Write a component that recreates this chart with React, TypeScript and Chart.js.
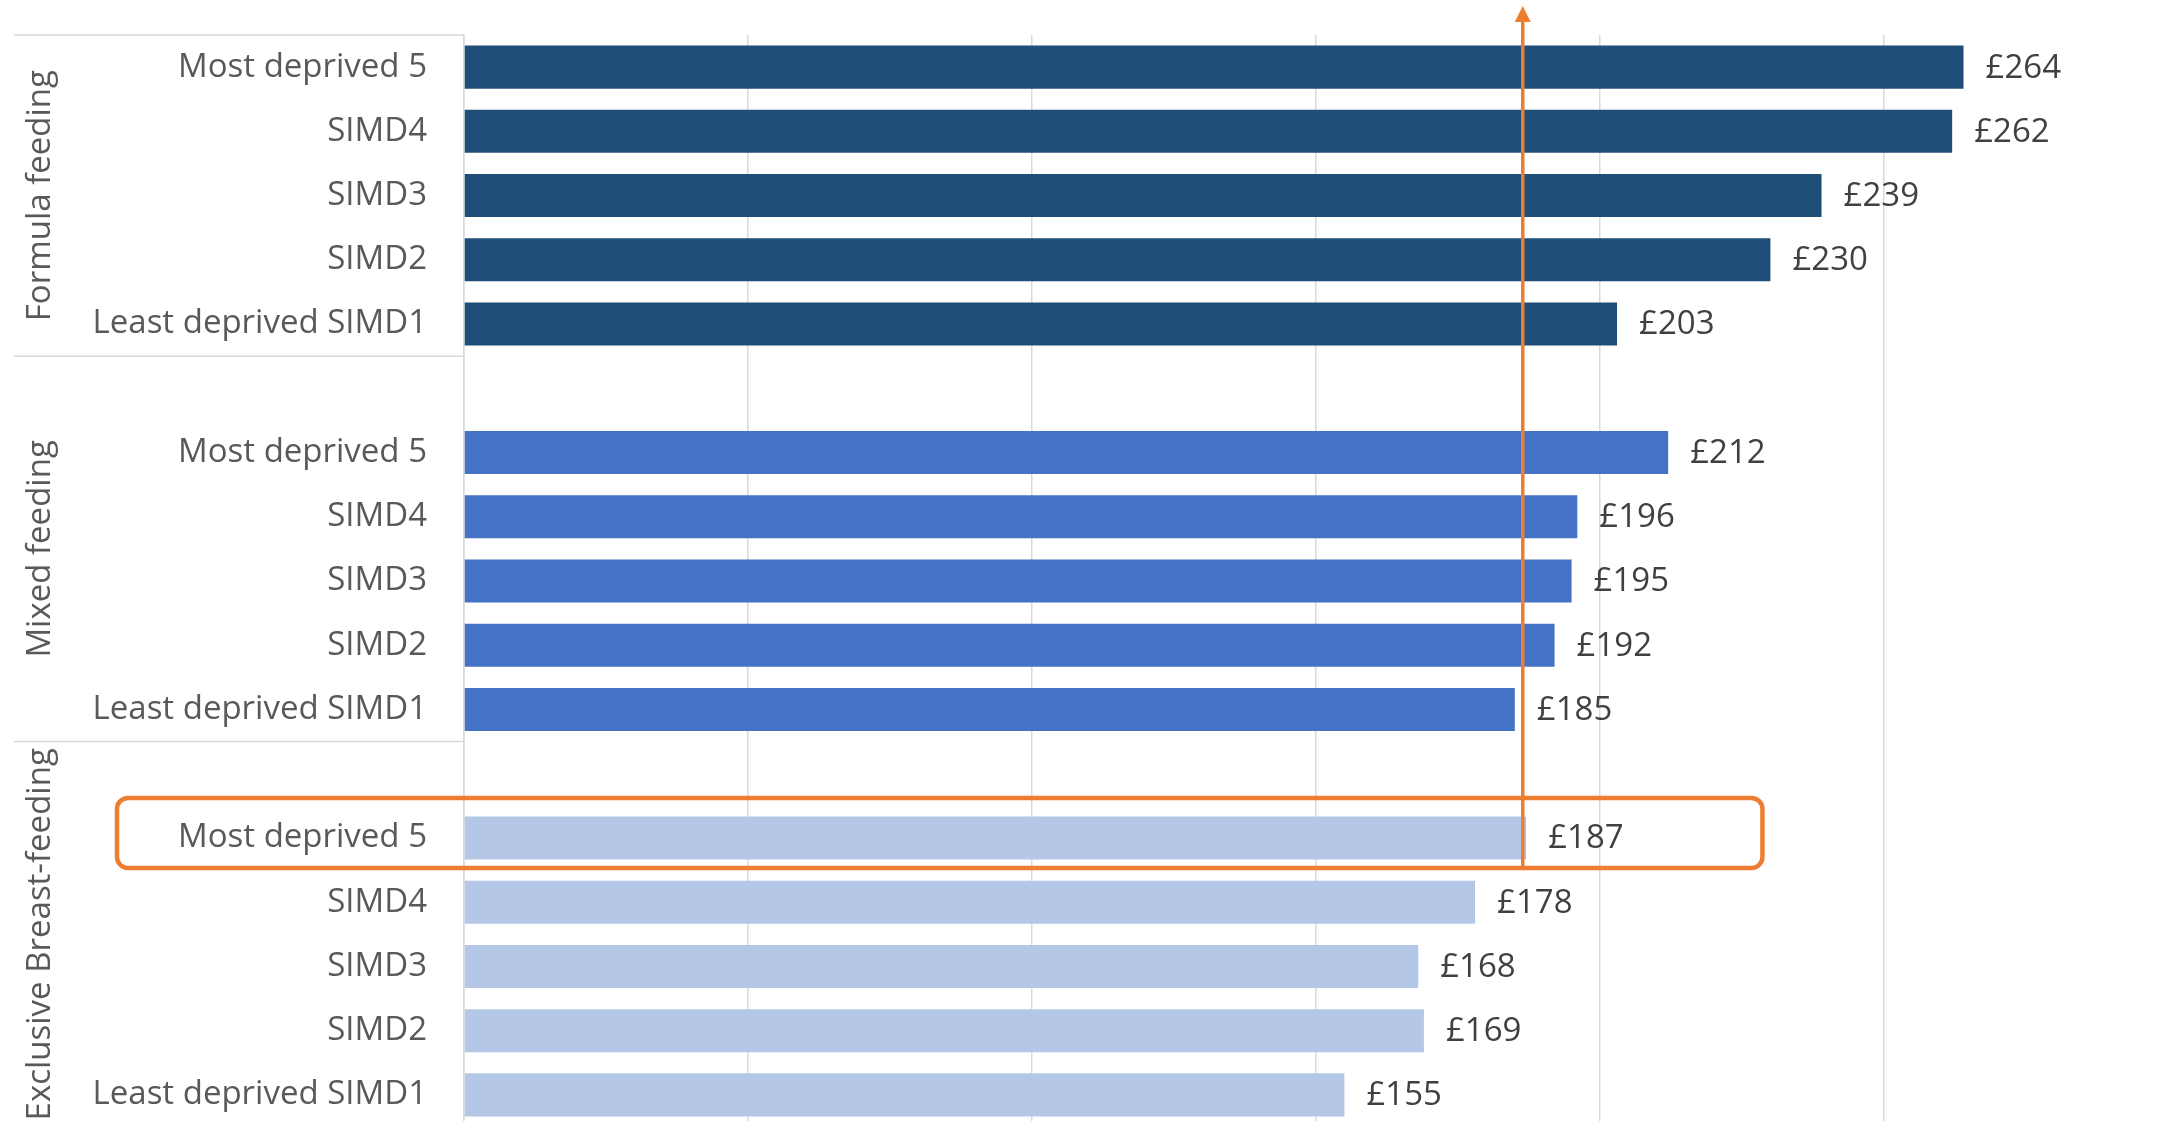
import React, { useEffect, useRef } from "react";
import { Chart, registerables } from "chart.js";

Chart.register(...registerables);

const groups = ["Formula feeding", "Mixed feeding", "Exclusive Breast-feeding"];
const subgroups = ["Most deprived 5", "SIMD4", "SIMD3", "SIMD2", "Least deprived SIMD1"];
const formulaValues = [264, 262, 239, 230, 203];
const mixedValues = [212, 196, 195, 192, 185];
const breastValues = [187, 178, 168, 169, 155];
const groupColors = ["#1F4E79", "#4472C4", "#B4C7E7"];
const referenceValue = 186.4;
const highlightRight = 228.6;
const xTicks = [0, 50, 100, 150, 200, 250, 300];

const FONT = "'Open Sans', sans-serif";

// Build category list: 5 formula, blank, 5 mixed, blank, 5 breast
const seriesByGroup = [formulaValues, mixedValues, breastValues];
const labels: string[] = [];
const values: (number | null)[] = [];
const colors: string[] = [];
const groupRanges: { start: number; end: number }[] = [];
seriesByGroup.forEach((vals, g) => {
  const start = labels.length;
  if (g > 0) {
    labels.push("");
    values.push(null);
    colors.push("rgba(0,0,0,0)");
  }
  vals.forEach((v, i) => {
    labels.push(subgroups[i]);
    values.push(v);
    colors.push(groupColors[g]);
  });
  groupRanges.push({ start, end: labels.length - 1 });
});
const highlightIndex = groupRanges[2].start + 1;

const decorPlugin = {
  id: "decor",
  afterDraw(chart: any) {
    const ctx = chart.ctx;
    const area = chart.chartArea;
    const slot = (area.bottom - area.top) / labels.length;
    ctx.save();
    ctx.strokeStyle = "#D9D9D9";
    ctx.lineWidth = 1.5;
    const lineYs = [area.top];
    groupRanges.forEach((r, i) => {
      if (i > 0) lineYs.push(area.top + r.start * slot);
    });
    lineYs.forEach((ly) => {
      ctx.beginPath();
      ctx.moveTo(14, ly);
      ctx.lineTo(area.left, ly);
      ctx.stroke();
    });
    ctx.fillStyle = "#595959";
    ctx.font = `33px ${FONT}`;
    ctx.textAlign = "center";
    ctx.textBaseline = "middle";
    groupRanges.forEach((r, i) => {
      const top = area.top + r.start * slot;
      const bottom = area.top + (r.end + 1) * slot;
      const cy = (top + bottom) / 2;
      ctx.save();
      ctx.translate(41, cy);
      ctx.rotate(-Math.PI / 2);
      ctx.fillText(groups[i], 0, 0);
      ctx.restore();
    });
    ctx.restore();
  },
  afterDatasetsDraw(chart: any) {
    const ctx = chart.ctx;
    const meta = chart.getDatasetMeta(0);
    const xs = chart.scales.x;
    const ys = chart.scales.y;
    ctx.save();
    ctx.fillStyle = "#404040";
    ctx.font = `33px ${FONT}`;
    ctx.textAlign = "left";
    ctx.textBaseline = "middle";
    meta.data.forEach((bar: any, i: number) => {
      const v = values[i];
      if (v == null) return;
      ctx.fillText(`£${v}`, bar.x + 22, bar.y + 1);
    });
    const yc = ys.getPixelForValue(highlightIndex);
    const top = yc - 40;
    const bottom = yc + 30;
    const left = 117;
    const right = xs.getPixelForValue(highlightRight);
    ctx.strokeStyle = "#ED7D31";
    ctx.lineWidth = 4.5;
    ctx.beginPath();
    (ctx as any).roundRect(left, top, right - left, bottom - top, 11);
    ctx.stroke();
    const ax = xs.getPixelForValue(referenceValue);
    ctx.lineWidth = 3.5;
    ctx.beginPath();
    ctx.moveTo(ax, bottom);
    ctx.lineTo(ax, 20);
    ctx.stroke();
    ctx.fillStyle = "#ED7D31";
    ctx.beginPath();
    ctx.moveTo(ax, 6);
    ctx.lineTo(ax - 8, 22);
    ctx.lineTo(ax + 8, 22);
    ctx.closePath();
    ctx.fill();
    ctx.restore();
  },
};

export default function App() {
  const canvasRef = useRef<HTMLCanvasElement | null>(null);
  useEffect(() => {
    if (!canvasRef.current) return;
    const chart = new Chart(canvasRef.current, {
      type: "bar",
      data: {
        labels,
        datasets: [
          {
            data: values as any,
            backgroundColor: colors,
            barPercentage: 0.67,
            categoryPercentage: 1,
          },
        ],
      },
      options: {
        indexAxis: "y",
        animation: false,
        responsive: true,
        maintainAspectRatio: false,
        layout: { padding: { top: 35, right: 2, bottom: 0, left: 0 } },
        plugins: {
          legend: { display: false },
          tooltip: { enabled: false },
        },
        scales: {
          x: {
            min: 0,
            max: 300,
            afterBuildTicks: (scale: any) => {
              scale.ticks = xTicks.map((v) => ({ value: v }));
            },
            ticks: { display: false },
            grid: { color: "#D9D9D9", lineWidth: 1.5, drawTicks: false },
            border: { display: false },
            afterFit: (scale: any) => {
              scale.height = 0;
              scale.paddingLeft = 0;
              scale.paddingRight = 0;
            },
          },
          y: {
            ticks: {
              color: "#595959",
              font: { family: FONT, size: 33 },
              padding: 37,
              autoSkip: false,
            },
            grid: { display: false, drawTicks: false },
            border: { display: true, color: "#D9D9D9", width: 1.5 },
            afterFit: (scale: any) => {
              scale.width = 464;
              scale.paddingTop = 0;
              scale.paddingBottom = 0;
            },
          },
        },
      },
      plugins: [decorPlugin],
    });
    return () => chart.destroy();
  }, []);
  return (
    <div style={{ position: "fixed", left: 0, top: 0, width: "2170px", height: "1127px", background: "#fff" }}>
      <canvas ref={canvasRef} />
    </div>
  );
}
